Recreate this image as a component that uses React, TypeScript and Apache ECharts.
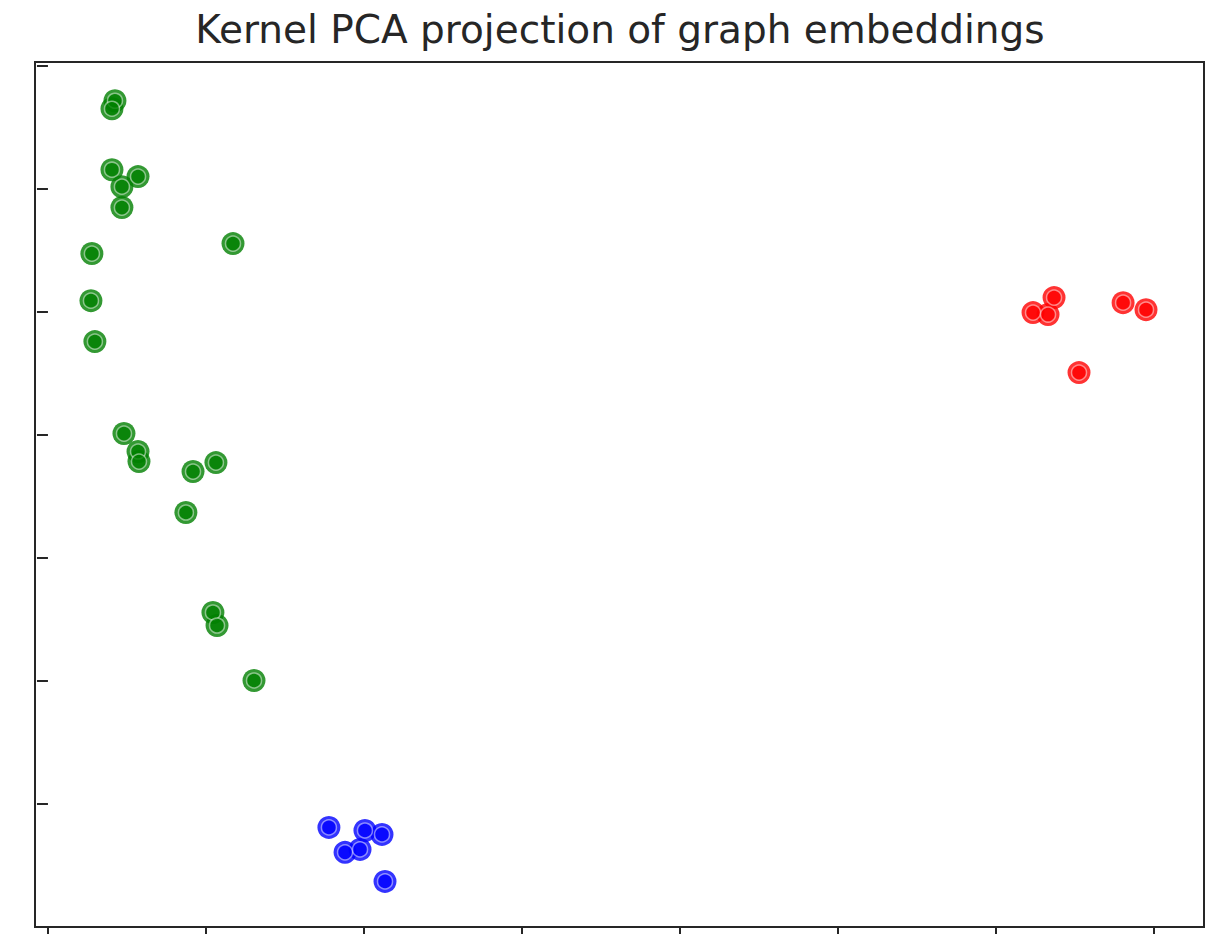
import React, { useEffect, useRef } from "react";
import * as echarts from "echarts";

const titleText = "Kernel PCA projection of graph embeddings";

const greenPoints: [number, number][] = [
  [0.424, 6.715], [0.405, 6.65], [0.405, 6.154], [0.57, 6.098], [0.468, 6.016],
  [0.468, 5.846], [1.171, 5.553], [0.278, 5.472], [0.272, 5.089], [0.297, 4.756],
  [0.481, 4.008], [0.57, 3.862], [0.576, 3.78], [0.918, 3.699], [1.063, 3.772],
  [0.873, 3.366], [1.044, 2.553], [1.07, 2.447], [1.304, 2.0],
];

const bluePoints: [number, number][] = [
  [1.778, 0.805], [1.88, 0.602], [1.975, 0.626], [2.006, 0.78], [2.114, 0.748], [2.133, 0.366],
];

const redPoints: [number, number][] = [
  [6.234, 4.992], [6.329, 4.976], [6.367, 5.114], [6.804, 5.073], [6.949, 5.016], [6.525, 4.504],
];

const xTicks = [0, 1, 2, 3, 4, 5, 6, 7];
const yTicks = [0, 1, 2, 3, 4, 5, 6, 7];

const groups = [
  { name: "green", color: "#008000", data: greenPoints },
  { name: "blue", color: "#0000ff", data: bluePoints },
  { name: "red", color: "#ff0000", data: redPoints },
];

export default function App() {
  const ref = useRef<HTMLDivElement>(null);
  useEffect(() => {
    if (!ref.current) return;
    const chart = echarts.init(ref.current, null, { renderer: "svg" });
    const series: any[] = [];
    groups.forEach((g) => {
      series.push({
        type: "scatter",
        name: g.name,
        data: g.data,
        symbol: "circle",
        symbolSize: 23,
        itemStyle: { color: g.color, opacity: 0.8 },
        z: 2,
      });
      series.push({
        type: "scatter",
        name: g.name + "-ring",
        data: g.data,
        symbol: "circle",
        symbolSize: 15,
        itemStyle: { color: g.color, borderColor: "rgba(255,255,255,0.6)", borderWidth: 1.5 },
        z: 3,
      });
    });
    chart.setOption({
      animation: false,
      backgroundColor: "#ffffff",
      graphic: [
        {
          type: "text",
          x: 620,
          y: 29,
          style: {
            text: titleText,
            textAlign: "center",
            textVerticalAlign: "middle",
            fontFamily: "DejaVu Sans",
            fontSize: 39,
            fill: "#262626",
          },
        },
      ],
      grid: {
        left: 35,
        right: 13,
        top: 62,
        bottom: 7,
        show: true,
        borderColor: "#262626",
        borderWidth: 2,
        containLabel: false,
      },
      xAxis: {
        type: "value",
        min: -0.082,
        max: 7.316,
        axisLine: { show: false },
        splitLine: { show: false },
        axisLabel: { show: false },
        axisTick: {
          show: true,
          inside: false,
          length: 8,
          customValues: xTicks,
          lineStyle: { color: "#262626", width: 2 },
        },
      },
      yAxis: {
        type: "value",
        min: -0.005,
        max: 7.03,
        axisLine: { show: false },
        splitLine: { show: false },
        axisLabel: { show: false },
        axisTick: {
          show: true,
          inside: false,
          length: 11,
          customValues: yTicks,
          lineStyle: { color: "#262626", width: 2 },
        },
      },
      series,
    });
    return () => chart.dispose();
  }, []);
  return (
    <div
      ref={ref}
      style={{ position: "fixed", left: 0, top: 0, width: 1217, height: 934, background: "#fff" }}
    />
  );
}
